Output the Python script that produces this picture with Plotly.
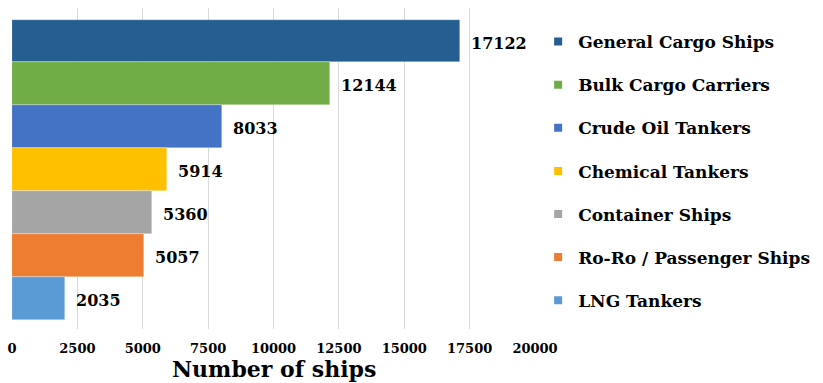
import plotly.graph_objects as go

# Fleet composition by ship type
ship_types = [
    "General Cargo Ships",
    "Bulk Cargo Carriers",
    "Crude Oil Tankers",
    "Chemical Tankers",
    "Container Ships",
    "Ro-Ro / Passenger Ships",
    "LNG Tankers",
]
ship_counts = [17122, 12144, 8033, 5914, 5360, 5057, 2035]
bar_colors = ["#255e91", "#70ad47", "#4472c4", "#ffc000", "#a5a5a5", "#ed7d31", "#5b9bd5"]
x_ticks = [0, 2500, 5000, 7500, 10000, 12500, 15000, 17500, 20000]

serif = "DejaVu Serif"

fig = go.Figure()
for i, (name, count, color) in enumerate(zip(ship_types, ship_counts, bar_colors)):
    fig.add_trace(go.Bar(
        x=[count], y=[i], orientation="h", name=name, showlegend=False,
        marker=dict(color=color, line=dict(color="rgba(255,255,255,0.6)", width=0.5)),
        width=1,
    ))
    # small square swatch for the legend
    fig.add_trace(go.Scatter(
        x=[None], y=[None], mode="markers", name=name, legendgroup=name,
        marker=dict(symbol="square", size=8, color=color),
    ))
    fig.add_annotation(
        x=count, y=i, text=f"<b>{count}</b>", showarrow=False,
        xanchor="left", xshift=9, yshift=-2,
        font=dict(family=serif, size=16, color="black"),
    )

# axis title drawn below the tick labels
fig.add_annotation(
    x=0.5, xref="paper", y=-0.078, yref="paper", yanchor="top",
    text="<b>Number of ships</b>", showarrow=False,
    font=dict(family=serif, size=22, color="black"),
)

fig.update_layout(
    width=823, height=383,
    margin=dict(l=12, r=288, t=8, b=54, autoexpand=False),
    paper_bgcolor="white", plot_bgcolor="white",
    barmode="overlay", bargap=0,
    font=dict(family=serif, color="black"),
    legend=dict(
        x=1.006, xanchor="left", y=0.95, yanchor="top",
        font=dict(family=serif, size=17, color="black", weight="bold"),
        tracegroupgap=18, itemwidth=30,
        bgcolor="rgba(0,0,0,0)",
    ),
    showlegend=True,
)
fig.update_xaxes(
    range=[0, 20000], tickvals=x_ticks, ticktext=[f"<b>{v}</b>" for v in x_ticks],
    showgrid=True, gridcolor="#d9d9d9", gridwidth=1,
    zeroline=False, showline=False, automargin=False,
    ticks="outside", ticklen=0, ticklabelstandoff=7,
    tickfont=dict(family=serif, size=13, color="black"),
)
fig.update_yaxes(
    range=[6.72, -0.77], showticklabels=False, showgrid=False, zeroline=False, automargin=False,
)

fig.write_html("out.html")
